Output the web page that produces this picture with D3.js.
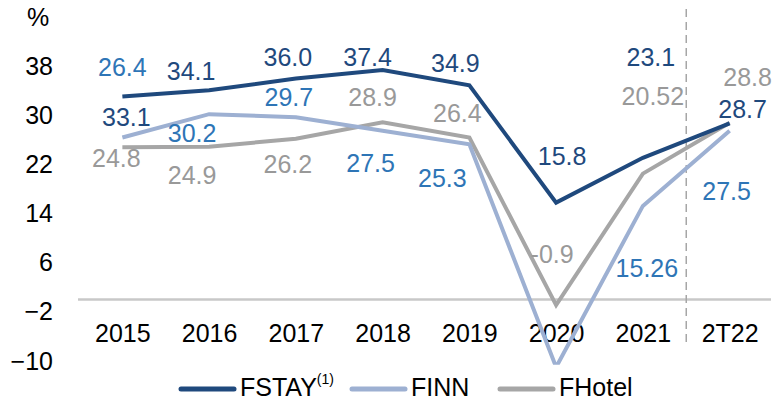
<!DOCTYPE html>
<html>
<head>
<meta charset="utf-8">
<script src="https://cdn.jsdelivr.net/npm/d3@7"></script>
<style>
  html, body { margin: 0; padding: 0; background: #fff; }
  svg { display: block; font-family: "Liberation Sans", Arial, sans-serif; }
</style>
</head>
<body>
<svg id="chart" width="779" height="403"></svg>
<script>
// Categories and series values (%)
const categories = ["2015", "2016", "2017", "2018", "2019", "2020", "2021", "2T22"];
const fstay  = [33.1, 34.1, 36.0, 37.4, 34.9, 15.8, 23.1, 28.7];
const finn   = [26.4, 30.2, 29.7, 27.5, 25.3, -11.0, 15.26, 27.5];
const fhotel = [24.8, 24.9, 26.2, 28.9, 26.4, -0.9, 20.52, 28.8];
const yTicks = [-10, -2, 6, 14, 22, 30, 38];
// Value labels printed on the chart (FINN 2020 has none)
const finnLabelShown = [true, true, true, true, true, false, true, true];

// Label placement relative to each point [dx, dy]
const fstayLabelOffset  = [[4, 21], [-18, -19], [-8, -21], [-15, -13], [-14, -22], [6, -46], [8, -101], [13, -14]];
const finnLabelOffset   = [[0, -70], [-17, 19], [-7, -20], [-12, 32], [-27, 34], [0, 0], [4, 62], [-3, 60]];
const fhotelLabelOffset = [[-6, 11], [-17, 29], [-8, 26], [-10, -25], [-12, -24], [-4, -51], [10, -77], [18, -46]];

const FS = 25;
const svg = d3.select("#chart");

const x = d3.scalePoint().domain(categories).range([79, 773]).padding(0.5);
const y = d3.scaleLinear().domain([-10, 38]).range([361, 66.3]);

const C = {
  dark: "#1F497D",
  darkText: "#1F497D",
  light: "#9DB0D2",
  lightText: "#2E75B6",
  gray: "#A6A6A6",
  grayText: "#999999"
};

// Percent unit
svg.append("text").attr("x", 27).attr("y", 17).attr("dy", "0.35em")
  .attr("font-size", FS).attr("fill", "#000").text("%");

// Y axis tick labels
const yAxis = d3.axisLeft(y).tickValues(yTicks).tickSize(0).tickPadding(0);
svg.append("g").attr("transform", "translate(53,0)").call(yAxis)
  .call(g => g.select(".domain").remove())
  .call(g => g.selectAll("text").attr("font-size", FS).attr("fill", "#000")
    .attr("font-family", "Liberation Sans, Arial, sans-serif"));

// Zero baseline
svg.append("line")
  .attr("x1", 78).attr("x2", 771).attr("y1", y(0)).attr("y2", y(0))
  .attr("stroke", "#C8C8C8").attr("stroke-width", 2.5);

// Dashed separator before the latest period
const sepX = (x("2021") + x("2T22")) / 2;
svg.append("line")
  .attr("x1", sepX).attr("x2", sepX).attr("y1", 9).attr("y2", 342)
  .attr("stroke", "#A6A6A6").attr("stroke-width", 1.5).attr("stroke-dasharray", "8,5");

// Category axis
const xAxis = d3.axisBottom(x).tickSize(0).tickPadding(0);
svg.append("g").attr("transform", "translate(0,324)").call(xAxis)
  .call(g => g.select(".domain").remove())
  .call(g => g.selectAll("text").attr("font-size", FS).attr("fill", "#000")
    .attr("font-family", "Liberation Sans, Arial, sans-serif"));

// Plot clip
svg.append("clipPath").attr("id", "plot-clip")
  .append("rect").attr("x", 60).attr("y", 0).attr("width", 719).attr("height", y(-10.6));

const line = d3.line().x((d, i) => x(categories[i])).y(d => y(d));

const series = [
  { values: fhotel, color: C.gray },
  { values: finn, color: C.light },
  { values: fstay, color: C.dark }
];
svg.append("g").attr("clip-path", "url(#plot-clip)")
  .selectAll("path").data(series).join("path")
  .attr("d", d => line(d.values))
  .attr("fill", "none").attr("stroke", d => d.color)
  .attr("stroke-width", 4).attr("stroke-linejoin", "miter");

// Value labels
const fmt = v => Math.abs(v * 10 - Math.round(v * 10)) < 1e-6 ? v.toFixed(1) : v.toFixed(2);
function labels(values, offsets, color, shown) {
  const g = svg.append("g");
  values.forEach((v, i) => {
    if (shown && !shown[i]) return;
    g.append("text")
      .attr("x", x(categories[i]) + offsets[i][0])
      .attr("y", y(v) + offsets[i][1])
      .attr("dy", "0.35em")
      .attr("text-anchor", "middle")
      .attr("font-size", FS)
      .attr("fill", color)
      .text(fmt(v));
  });
}
labels(fhotel, fhotelLabelOffset, C.grayText);
labels(finn, finnLabelOffset, C.lightText, finnLabelShown);
labels(fstay, fstayLabelOffset, C.darkText);

// Legend
const legend = [
  { name: "FSTAY", sup: "(1)", color: C.dark, x: 181 },
  { name: "FINN", color: C.light, x: 352 },
  { name: "FHotel", color: C.gray, x: 500 }
];
const lg = svg.append("g");
legend.forEach(d => {
  lg.append("line").attr("x1", d.x).attr("x2", d.x + 53).attr("y1", 389).attr("y2", 389)
    .attr("stroke", d.color).attr("stroke-width", 5).attr("stroke-linecap", "round");
  const t = lg.append("text").attr("x", d.x + 59).attr("y", 396)
    .attr("font-size", FS).attr("fill", "#000").text(d.name);
  if (d.sup) {
    t.append("tspan").attr("font-size", 14).attr("dy", -12).text(d.sup);
  }
});
</script>
</body>
</html>
